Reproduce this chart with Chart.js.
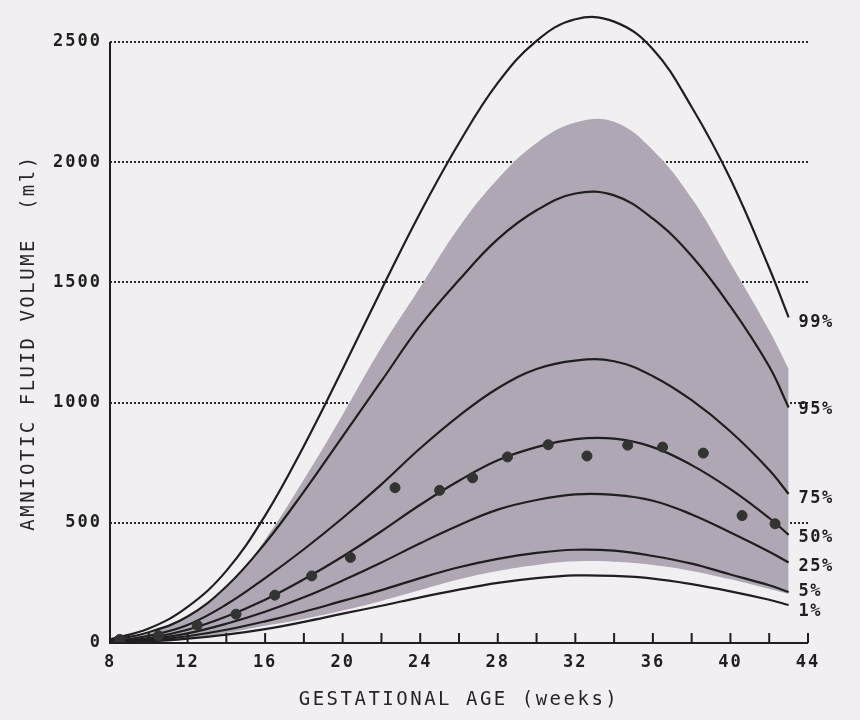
<!DOCTYPE html>
<html>
<head>
<meta charset="utf-8">
<title>Amniotic fluid volume</title>
<script src="https://cdn.jsdelivr.net/npm/chart.js@4.4.1/dist/chart.umd.min.js"></script>
<style>
  html, body { margin: 0; padding: 0; background: #f2eff2; }
</style>
</head>
<body>
<canvas id="afv" width="860" height="720"></canvas>
<script>
// gestational age (weeks) where the percentile curves were read
const weeks = [8, 10, 12, 14, 16, 18, 20, 22, 24, 26, 28, 30, 32, 34, 36, 38, 40, 42, 43];

// percentile curves, volume in ml
const p99 = [15, 60, 150, 300, 530, 820, 1140, 1470, 1790, 2080, 2330, 2505, 2595, 2585, 2470, 2230, 1930, 1560, 1355];
const p95 = [10, 45, 110, 235, 415, 630, 860, 1090, 1320, 1510, 1680, 1800, 1870, 1862, 1765, 1610, 1400, 1150, 980];
const p75 = [5, 30, 75, 160, 270, 390, 520, 660, 810, 945, 1060, 1140, 1175, 1172, 1110, 1010, 880, 720, 620];
const p50 = [3, 20, 55, 110, 180, 265, 360, 465, 575, 675, 760, 815, 848, 850, 815, 740, 640, 520, 450];
const p25 = [2, 15, 40, 80, 130, 190, 260, 335, 415, 490, 555, 595, 618, 616, 592, 535, 460, 380, 335];
const p5 = [1, 10, 28, 55, 90, 130, 175, 220, 270, 315, 350, 375, 388, 384, 362, 330, 285, 240, 212];
const p1 = [0, 6, 18, 35, 58, 88, 122, 155, 190, 222, 250, 270, 281, 279, 268, 245, 215, 180, 158];

// shaded range of the measured values
const bandTop = [10, 40, 110, 230, 430, 680, 950, 1230, 1480, 1730, 1930, 2080, 2165, 2168, 2050, 1850, 1580, 1300, 1140];
const bandBottom = [0, 6, 20, 42, 72, 100, 135, 175, 220, 265, 300, 325, 340, 338, 325, 300, 265, 225, 205];

// mean values (dots)
const dotWeeks = [8.5, 10.5, 12.5, 14.5, 16.5, 18.4, 20.4, 22.7, 25.0, 26.7, 28.5, 30.6, 32.6, 34.7, 36.5, 38.6, 40.6, 42.3];
const dotVolumes = [15, 30, 74, 120, 199, 279, 356, 646, 635, 687, 774, 825, 778, 823, 815, 790, 530, 496];

const curveLabels = ['99%', '95%', '75%', '50%', '25%', '5%', '1%'];
const yTicks = [0, 500, 1000, 1500, 2000, 2500];
const xTitle = 'GESTATIONAL AGE (weeks)';
const yTitle = 'AMNIOTIC FLUID VOLUME  (ml)';

const ink = '#1f1f1f';
const mono = '"DejaVu Sans Mono", "Liberation Mono", monospace';

const toPoints = (xs, ys) => xs.map((x, i) => ({ x: x, y: ys[i] }));
const curves = [p99, p95, p75, p50, p25, p5, p1];

const datasets = [
    {
        label: 'range',
        data: toPoints(weeks, bandTop),
        fill: '+1',
        backgroundColor: '#afa7b3',
        borderColor: 'transparent',
        pointRadius: 0,
        tension: 0.4,
        order: 10
    },
    {
        label: 'range-low',
        data: toPoints(weeks, bandBottom),
        fill: false,
        borderColor: 'transparent',
        pointRadius: 0,
        tension: 0.4,
        order: 10
    }
];
curves.forEach((c, i) => {
    datasets.push({
        label: curveLabels[i],
        data: toPoints(weeks, c),
        fill: false,
        borderColor: ink,
        borderWidth: 2.2,
        pointRadius: 0,
        tension: 0.4,
        order: 5,
        isCurve: true
    });
});
datasets.push({
    type: 'scatter',
    label: 'mean',
    data: toPoints(dotWeeks, dotVolumes),
    backgroundColor: '#333',
    borderColor: '#333',
    pointRadius: 5,
    order: 1
});

// small offsets so the labels sit like in the printed figure
const labelDy = [5, 2, 5, 3, 4, 0, 7];

const framePlugin = {
    id: 'frame',
    beforeDraw(chart) {
        chart.ctx.letterSpacing = '2px';
    },
    afterDatasetsDraw(chart) {
        const { ctx, scales: { x, y } } = chart;
        const x0 = x.getPixelForValue(x.min);
        const y0 = y.getPixelForValue(0);
        ctx.save();
        ctx.strokeStyle = ink;
        ctx.lineWidth = 2;
        ctx.beginPath();
        ctx.moveTo(x0, y.getPixelForValue(yTicks[yTicks.length - 1]));
        ctx.lineTo(x0, y0);
        ctx.lineTo(x.getPixelForValue(x.max), y0);
        // tick marks point up into the plot
        x.ticks.forEach(t => {
            const px = x.getPixelForValue(t.value);
            ctx.moveTo(px, y0);
            ctx.lineTo(px, y0 - 10);
        });
        ctx.stroke();

        // percentile names at the end of each curve
        ctx.fillStyle = ink;
        ctx.font = 'bold 17px ' + mono;
        ctx.letterSpacing = '1.5px';
        ctx.textAlign = 'left';
        ctx.textBaseline = 'middle';
        let n = 0;
        chart.data.datasets.forEach((ds, i) => {
            if (!ds.isCurve) return;
            const pts = chart.getDatasetMeta(i).data;
            const last = pts[pts.length - 1];
            ctx.fillText(ds.label, last.x + 10, last.y + labelDy[n]);
            n++;
        });
        ctx.restore();
    },
    afterDraw(chart) {
        const { ctx, chartArea, scales: { y } } = chart;
        ctx.save();
        ctx.fillStyle = '#262626';
        ctx.font = '19px ' + mono;
        ctx.letterSpacing = '2.5px';
        ctx.textAlign = 'center';
        ctx.textBaseline = 'middle';
        ctx.fillText(xTitle, (chartArea.left + chartArea.right) / 2, 700);
        const yc = (y.getPixelForValue(0) + y.getPixelForValue(yTicks[yTicks.length - 1])) / 2;
        ctx.translate(29, yc);
        ctx.rotate(-Math.PI / 2);
        ctx.fillText(yTitle, 0, 0);
        ctx.restore();
    }
};

new Chart(document.getElementById('afv'), {
    type: 'line',
    data: { datasets: datasets },
    options: {
        responsive: false,
        animation: false,
        layout: { padding: { left: 0, right: 52, top: 3, bottom: 0 } },
        plugins: {
            legend: { display: false },
            tooltip: { enabled: false }
        },
        scales: {
            x: {
                type: 'linear',
                min: 8,
                max: 44,
                grid: { display: false, drawTicks: false },
                border: { display: false },
                ticks: {
                    stepSize: 2,
                    autoSkip: false,
                    maxRotation: 0,
                    padding: 9,
                    color: ink,
                    font: { family: mono, size: 17, weight: 'bold' },
                    callback: v => ((v - 8) % 4 === 0 ? String(v) : '')
                },
                afterFit: s => { s.height = 77; }
            },
            y: {
                type: 'linear',
                min: 0,
                max: 2650,
                afterBuildTicks: s => { s.ticks = yTicks.map(v => ({ value: v })); },
                grid: { drawTicks: false, color: '#2a2a2a', lineWidth: 2 },
                border: { display: false, dash: [2, 2] },
                ticks: {
                    padding: 8,
                    color: ink,
                    font: { family: mono, size: 17, weight: 'bold' },
                    callback: v => String(v)
                },
                afterFit: s => {
                    s.width = 110;
                    s.paddingTop = 0;
                    s.paddingBottom = 0;
                }
            }
        }
    },
    plugins: [framePlugin]
});
</script>
</body>
</html>
